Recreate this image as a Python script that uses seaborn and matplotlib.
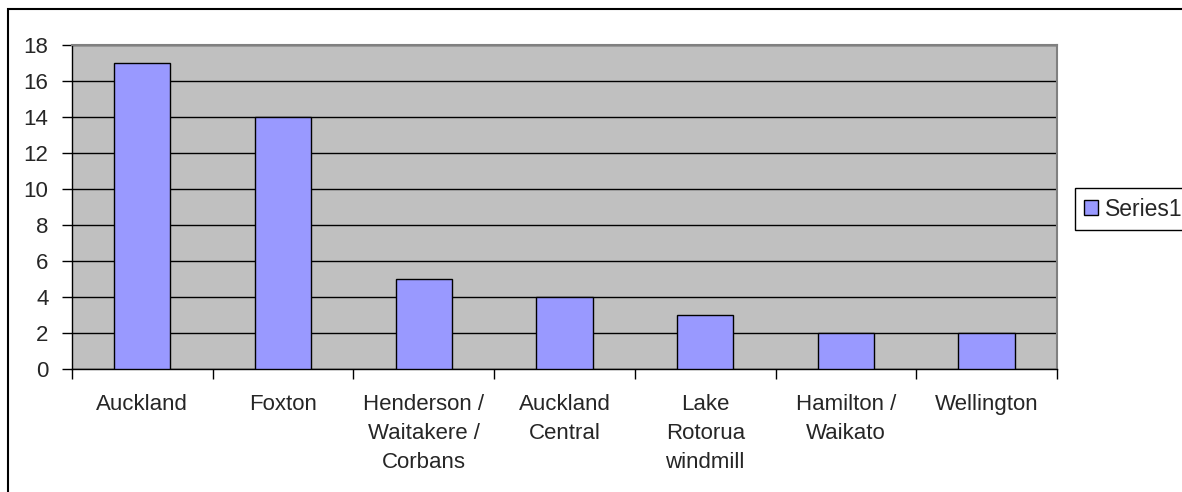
import matplotlib
matplotlib.use("Agg")
import matplotlib.pyplot as plt
from matplotlib.patches import Patch, Rectangle
import pandas as pd
import seaborn as sns

locations = ["Auckland", "Foxton", "Henderson /\nWaitakere /\nCorbans", "Auckland\nCentral",
             "Lake\nRotorua\nwindmill", "Hamilton /\nWaikato", "Wellington"]
counts = [17, 14, 5, 4, 3, 2, 2]
series_name = "Series1"
y_ticks = [0, 2, 4, 6, 8, 10, 12, 14, 16, 18]

df = pd.DataFrame({"location": locations, "count": counts})

sns.set_style("white")
plt.rcParams["font.family"] = ["Liberation Sans", "DejaVu Sans"]

fig = plt.figure(figsize=(11.82, 4.92), dpi=100)
ax = fig.add_axes([72 / 1182, 1 - 369 / 492, (1057 - 72) / 1182, (369 - 45) / 492])

sns.barplot(data=df, x="location", y="count", color="#9999FF", width=0.4,
            edgecolor="black", linewidth=1, saturation=1, ax=ax, zorder=3)

ax.set_facecolor("#C0C0C0")
ax.set_xlim(-0.5, len(locations) - 0.5)
ax.set_ylim(0, 18)
ax.set_yticks(y_ticks)
ax.yaxis.grid(True, color="black", linewidth=1)
ax.set_axisbelow(True)
ax.set_xlabel("")
ax.set_ylabel("")

# category separators as ticks, like Excel
ax.set_xticks([i - 0.5 for i in range(len(locations) + 1)], minor=True)
ax.tick_params(axis="x", which="minor", length=7, width=1, color="black", direction="out")
ax.tick_params(axis="x", which="major", length=0, pad=18, labelsize=16)
ax.tick_params(axis="y", length=7, width=1, color="black", direction="out", pad=10, labelsize=16)
for lab in ax.get_xticklabels():
    lab.set_linespacing(1.5)
ax.tick_params(left=True, bottom=True)
ax.xaxis.set_tick_params(which="minor", bottom=True)

for side in ["left", "bottom"]:
    ax.spines[side].set_color("black")
    ax.spines[side].set_linewidth(1)
for side in ["top", "right"]:
    ax.spines[side].set_visible(True)
    ax.spines[side].set_color("#808080")
    ax.spines[side].set_linewidth(1.5)

handle = Patch(facecolor="#9999FF", edgecolor="black", linewidth=1)
fig.legend([handle], [series_name], loc="center left", bbox_to_anchor=(1075 / 1182, 1 - 209 / 492),
           fontsize=16.5, frameon=True, fancybox=False, edgecolor="black", framealpha=1,
           handlelength=0.6, handleheight=0.6, handletextpad=0.3, borderpad=0.4, borderaxespad=0)

# outer chart border (cut off on the right and bottom)
fig.patches.append(Rectangle((8 / 1182, -0.1), 1.2, 1.1 - 9 / 492, transform=fig.transFigure,
                             fill=False, edgecolor="black", linewidth=1.5))

fig.savefig("out.png", dpi=100)
